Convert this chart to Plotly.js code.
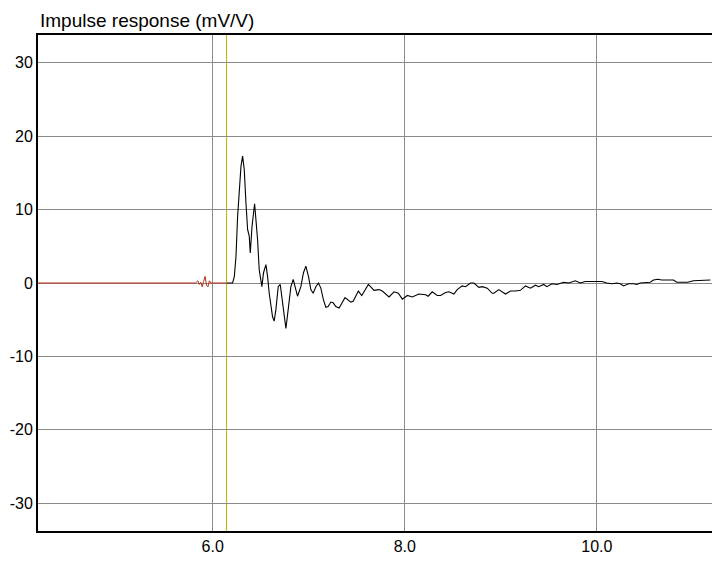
<!DOCTYPE html>
<html>
<head>
<meta charset="utf-8">
<script src="https://cdn.plot.ly/plotly-3.0.1.min.js"></script>
<style>html,body{margin:0;padding:0;background:#fff;}#chart{width:712px;height:561px;}</style>
</head>
<body>
<div id="chart"></div>
<script>
// Pre-trigger (red) trace, time in ms, response in mV/V
const preTime = [4.17, 5.80, 5.82, 5.845, 5.86, 5.875, 5.89, 5.905, 5.92, 5.935, 5.95, 5.965, 5.98, 6.00, 6.149];
const preResp = [0, 0, 0, 0.3, -0.2, 0.1, -0.5, 0.2, 0.9, -0.3, -0.5, 0.3, 0, 0, 0];

// Main impulse response (black)
const mainTime = [6.149, 6.207, 6.225, 6.242, 6.259, 6.277, 6.294, 6.311, 6.328, 6.346, 6.363, 6.380, 6.391, 6.409, 6.422, 6.436, 6.450, 6.467, 6.484, 6.502,
  6.512, 6.529, 6.554, 6.571, 6.588, 6.623, 6.640, 6.658, 6.682, 6.703, 6.720, 6.744, 6.762, 6.786, 6.814, 6.838, 6.859, 6.883, 6.918, 6.945,
  6.970, 6.997, 7.022, 7.046, 7.074, 7.101, 7.126, 7.153, 7.178, 7.202, 7.230, 7.254, 7.282, 7.316, 7.334, 7.378, 7.438, 7.462, 7.517, 7.552,
  7.621, 7.680, 7.732, 7.766, 7.836, 7.888, 7.933, 7.975, 8.027, 8.078, 8.148, 8.217, 8.244, 8.286, 8.338, 8.373, 8.425, 8.460, 8.512, 8.546,
  8.598, 8.633, 8.685, 8.720, 8.772, 8.807, 8.859, 8.911, 8.928, 8.980, 9.049, 9.101, 9.153, 9.205, 9.257, 9.309, 9.361, 9.395, 9.447, 9.481,
  9.533, 9.585, 9.655, 9.708, 9.776, 9.828, 9.880, 9.985, 10.053, 10.105, 10.157, 10.209, 10.244, 10.279, 10.331, 10.383, 10.417, 10.452, 10.504, 10.556,
  10.591, 10.635, 10.677, 10.799, 10.833, 10.947, 11.007, 11.128, 11.183];
const mainResp = [0, 0, 0.9, 3.6, 9.1, 13.2, 15.9, 17.3, 15.5, 10.9, 7.3, 6.4, 4.1, 7.7, 9.5, 10.8, 8.6, 5.9, 1.8, 0,
  -0.5, 1.4, 2.5, 0.9, -1.4, -4.6, -5.2, -3.6, -0.5, -0.2, -1.8, -4.6, -6.2, -3.6, -0.5, 0.5, -0.5, -1.8, -0.5, 1.4,
  2.3, 0.9, -0.9, -1.4, -0.5, 0, -0.7, -2.3, -3.3, -3.2, -2.6, -2.7, -3.2, -3.4, -3.0, -2.0, -2.6, -2.5, -1.1, -1.7,
  -0.2, -1.0, -0.9, -1.1, -1.9, -1.2, -1.4, -2.2, -1.7, -1.9, -1.5, -1.6, -1.8, -1.2, -1.7, -1.7, -1.3, -1.2, -1.5, -0.9,
  -0.4, -0.5, 0, 0, -0.6, -0.5, -0.7, -1.4, -1.4, -0.9, -1.5, -1.1, -1.1, -1.0, -0.4, -0.7, -0.3, -0.5, -0.2, -0.5,
  -0.1, -0.2, 0.1, 0, 0.3, 0, 0.2, 0.2, 0.2, 0, -0.1, 0, -0.1, -0.4, -0.1, -0.1, -0.2, 0, 0, 0.1,
  0.4, 0.5, 0.4, 0.4, 0.1, 0.1, 0.3, 0.4, 0.4];

const markerTime = 6.144;
const xTickVals = [6, 8, 10];
const xTickText = ['6.0', '8.0', '10.0'];
const yTickVals = [-30, -20, -10, 0, 10, 20, 30];
const yTickText = ['-30', '-20', '-10', '0', '10', '20', '30'];

const font = 'Liberation Sans, Arial, sans-serif';

const traces = [
  {x: preTime, y: preResp, type: 'scatter', mode: 'lines', line: {color: 'rgb(185,45,20)', width: 1}, hoverinfo: 'skip'},
  {x: mainTime, y: mainResp, type: 'scatter', mode: 'lines', line: {color: '#000', width: 1.1}, hoverinfo: 'skip'}
];

const layout = {
  width: 712, height: 561,
  margin: {l: 38, r: 0, t: 35, b: 30, pad: 0},
  paper_bgcolor: '#fff', plot_bgcolor: '#fff',
  showlegend: false,
  font: {family: font, size: 16, color: '#000'},
  title: {text: 'Impulse response (mV/V)', x: 40/712, xanchor: 'left', xref: 'container', y: 1 - 20/561, yanchor: 'middle', yref: 'container', font: {family: font, size: 19, color: '#000'}},
  xaxis: {range: [4.18, 11.2], tickvals: xTickVals, ticktext: xTickText, showgrid: true, gridcolor: '#8a8a8a', gridwidth: 1,
    zeroline: false, showline: true, linecolor: '#000', linewidth: 2, mirror: true, ticks: '', ticklen: 0,
    tickfont: {family: font, size: 16, color: '#000'}},
  yaxis: {range: [-33.8, 33.8], tickvals: yTickVals, ticktext: yTickText, showgrid: true, gridcolor: '#8a8a8a', gridwidth: 1,
    zeroline: false, showline: true, linecolor: '#000', linewidth: 2, ticks: '', ticklen: 0,
    tickfont: {family: font, size: 16, color: '#000'}},
  shapes: [{type: 'line', xref: 'x', yref: 'paper', x0: markerTime, x1: markerTime, y0: 0, y1: 1, line: {color: '#b8b400', width: 1}, layer: 'below'}]
};

Plotly.newPlot('chart', traces, layout, {displayModeBar: false, staticPlot: true});
</script>
</body>
</html>
